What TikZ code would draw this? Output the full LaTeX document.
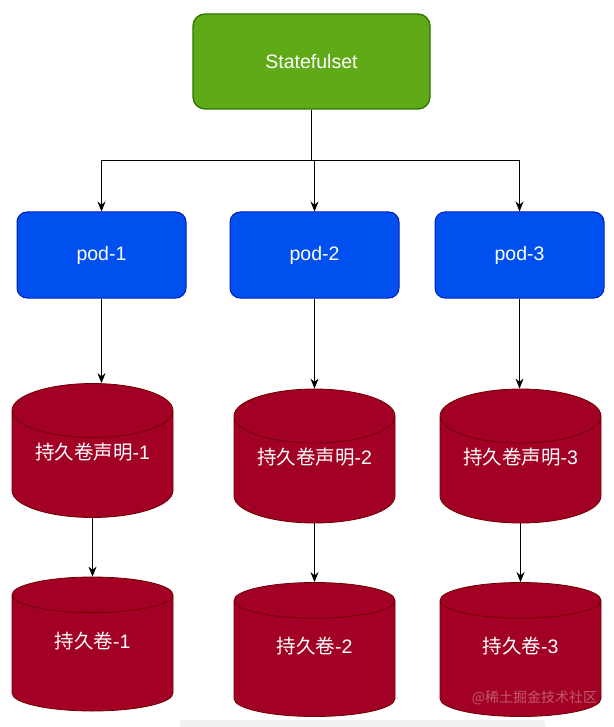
\documentclass[tikz,border=0pt]{standalone}
\usepackage{fontspec}
\setmainfont{Liberation Sans}
\newfontfamily\cjk{Noto Sans CJK SC}
\usetikzlibrary{shapes.geometric,arrows.meta,positioning,calc}
\definecolor{setfill}{HTML}{60A917}
\definecolor{setline}{HTML}{2D7600}
\definecolor{podfill}{HTML}{0050EF}
\definecolor{podline}{HTML}{001DBC}
\definecolor{volfill}{HTML}{A20025}
\definecolor{volline}{HTML}{6F0000}

\begin{document}
\begin{tikzpicture}[x=1pt, y=-1pt, align=center, inner sep=0pt,
      font=\fontsize{19.5}{21}\selectfont,
      setbox/.style={draw=setline, fill=setfill, text=white, line width=1.3pt,
                     rounded corners=12pt, minimum width=237pt, minimum height=95pt},
      podbox/.style={draw=podline, fill=podfill, text=white, line width=1pt,
                     rounded corners=10pt, minimum width=169pt, minimum height=86pt},
         vol/.style={cylinder, shape border rotate=90, aspect=0.47, anchor=shape center,
                     draw=volline, fill=volfill, text=white, line width=0.8pt,
                     minimum width=161pt, minimum height=134pt,
                     text height=15pt, text depth=25pt},
      link/.style={line width=1pt, -{Stealth[length=10pt,width=8pt]}},  ]

    \useasboundingbox (0,0) rectangle (613,727);

    % controller
    \node[setbox] (set) at (311.5,61.5) {Statefulset};

    % pods
    \node[podbox] (pod-1) at (101.5,255) {pod-1};
    \node[podbox] (pod-2) at (314.5,255) {pod-2};
    \node[podbox] (pod-3) at (519.5,255) {pod-3};

    % claims and volumes
    \node[vol] (pvc-1) at (92.5,450.5) {{\cjk 持久卷声明}-1};
    \node[vol] (pvc-2) at (314.5,456)  {{\cjk 持久卷声明}-2};
    \node[vol] (pvc-3) at (520.5,456)  {{\cjk 持久卷声明}-3};
    \node[vol] (pv-1)  at (92.5,644)   {{\cjk 持久卷}-1};
    \node[vol] (pv-2)  at (314.5,649.5) {{\cjk 持久卷}-2};
    \node[vol] (pv-3)  at (520.5,649.5) {{\cjk 持久卷}-3};

    \coordinate (split) at ($(set.south)+(0,51)$);

    \begin{scope}[link]
      \draw (set.south) -- (split) -| (pod-1.north);
      \draw (split) -| (pod-2.north);
      \draw (split) -| (pod-3.north);
      \foreach \n in {1,2,3} {
        \draw (pod-\n.south) -- (pod-\n.south |- pvc-\n.north);
        \draw (pvc-\n) -- (pv-\n);
      }
    \end{scope}

    % watermark
    \node[text=white, opacity=0.35, font=\cjk\fontsize{14}{15}\selectfont]
        (wm) at (534.5,698) {@稀土掘金技术社区};
    \fill[gray!12, rounded corners=3pt] (180,720) rectangle (545,730);

  \end{tikzpicture}
\end{document}
